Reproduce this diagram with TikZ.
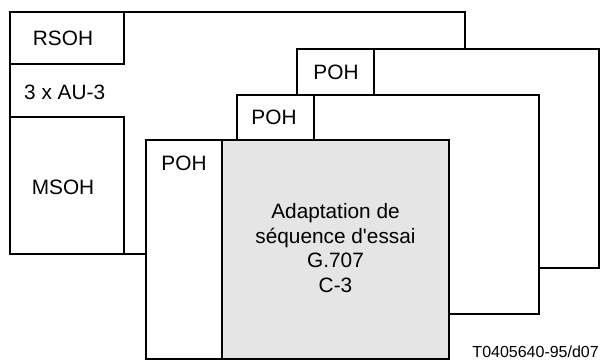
\documentclass[tikz,border=0pt]{standalone}
\usepackage{fontspec}
\setmainfont{Liberation Sans}
\begin{document}
\begin{tikzpicture}[x=1pt,y=-1pt,
  frame/.style={draw=black,line width=1.7pt,fill=white},
  lbl/.style={inner sep=0pt,font=\fontsize{20.8}{24.7}\selectfont},
  note/.style={inner sep=0pt,font=\fontsize{16}{19}\selectfont}]
\useasboundingbox (0,0) rectangle (600,361);
% back frame
\draw[frame] (10,12) rectangle (465,254);
\draw[frame] (10,12) rectangle (124,64);
\draw[frame] (10,117) rectangle (124,254);
\node[lbl] (rsoh) at (63,38) {RSOH};
\node[lbl,anchor=west] (au) at (24,92) {3 x AU-3};
\node[lbl] (msoh) at (63,187) {MSOH};
% frame 2
\draw[frame] (297,49) rectangle (599,268);
\draw[frame] (297,49) rectangle (374,95);
\node[lbl] (poh2) at (336,72) {POH};
% frame 3
\draw[frame] (237,95) rectangle (539,314);
\draw[frame] (237,95) rectangle (314,140);
\node[lbl] (poh3) at (274,117) {POH};
% front frame
\draw[frame] (146,140) rectangle (449,359);
\draw[frame,fill=black!10] (222,140) rectangle (449,359);
\node[lbl] (poh4) at (184,163) {POH};
\node[lbl,align=center,anchor=base] (txt) at (335.5,292.5) {Adaptation de\\s\'equence d\textquotesingle essai\\G.707\\C-3};
\node[note,anchor=base east] (ref) at (599,357) {T0405640-95/d07};
\end{tikzpicture}
\end{document}
